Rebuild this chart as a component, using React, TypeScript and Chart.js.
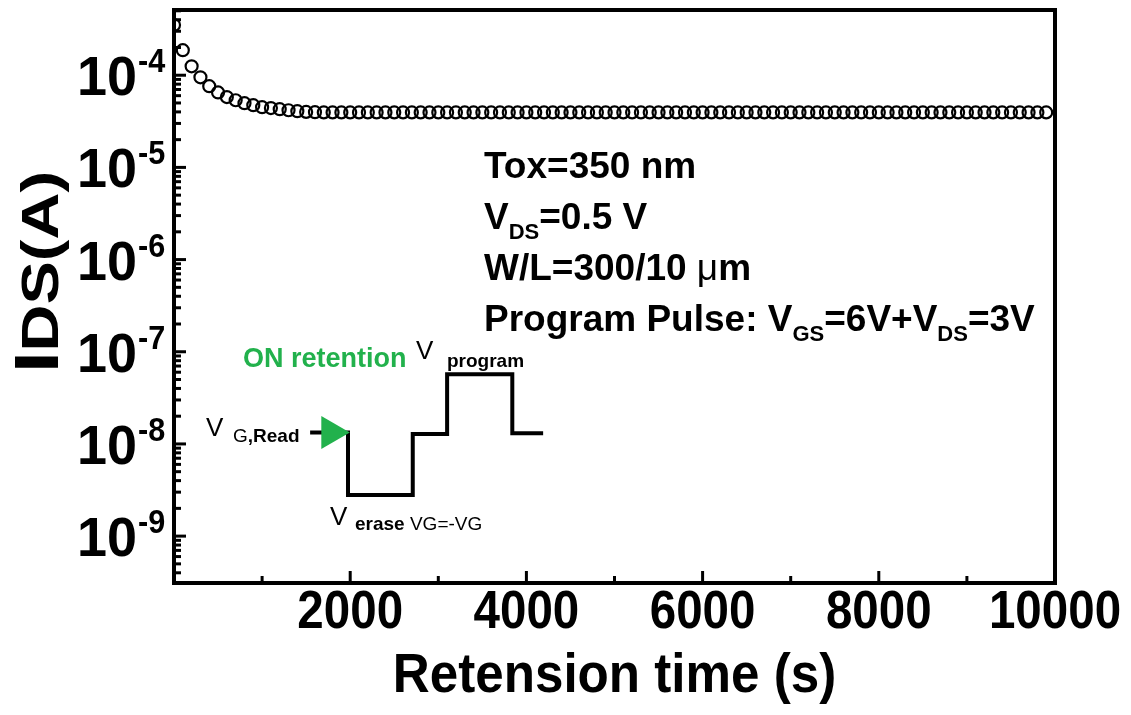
import React, { useEffect, useRef } from "react";
import { Chart, registerables } from "chart.js";

Chart.register(...registerables);

// ---- data ----
const retentionTimes = [
  0, 100, 200, 300, 400, 500, 600, 700, 800, 900,
  1000, 1100, 1200, 1300, 1400, 1500, 1600, 1700, 1800, 1900,
  2000, 2100, 2200, 2300, 2400, 2500, 2600, 2700, 2800, 2900,
  3000, 3100, 3200, 3300, 3400, 3500, 3600, 3700, 3800, 3900,
  4000, 4100, 4200, 4300, 4400, 4500, 4600, 4700, 4800, 4900,
  5000, 5100, 5200, 5300, 5400, 5500, 5600, 5700, 5800, 5900,
  6000, 6100, 6200, 6300, 6400, 6500, 6600, 6700, 6800, 6900,
  7000, 7100, 7200, 7300, 7400, 7500, 7600, 7700, 7800, 7900,
  8000, 8100, 8200, 8300, 8400, 8500, 8600, 8700, 8800, 8900,
  9000, 9100, 9200, 9300, 9400, 9500, 9600, 9700, 9800, 9900,
];

const drainCurrents = [
  3.5e-4, 1.87e-4, 1.25e-4, 9.5e-5, 7.6e-5, 6.5e-5, 5.8e-5, 5.35e-5, 4.97e-5, 4.73e-5,
  4.5e-5, 4.4e-5, 4.28e-5, 4.17e-5, 4.07e-5, 4.0e-5, 3.97e-5, 3.95e-5, 3.95e-5, 3.95e-5,
  3.95e-5, 3.95e-5, 3.95e-5, 3.95e-5, 3.95e-5, 3.95e-5, 3.95e-5, 3.95e-5, 3.95e-5, 3.95e-5,
  3.95e-5, 3.95e-5, 3.95e-5, 3.95e-5, 3.95e-5, 3.95e-5, 3.95e-5, 3.95e-5, 3.95e-5, 3.95e-5,
  3.95e-5, 3.95e-5, 3.95e-5, 3.95e-5, 3.95e-5, 3.95e-5, 3.95e-5, 3.95e-5, 3.95e-5, 3.95e-5,
  3.95e-5, 3.95e-5, 3.95e-5, 3.95e-5, 3.95e-5, 3.95e-5, 3.95e-5, 3.95e-5, 3.95e-5, 3.95e-5,
  3.95e-5, 3.95e-5, 3.95e-5, 3.95e-5, 3.95e-5, 3.95e-5, 3.95e-5, 3.95e-5, 3.95e-5, 3.95e-5,
  3.95e-5, 3.95e-5, 3.95e-5, 3.95e-5, 3.95e-5, 3.95e-5, 3.95e-5, 3.95e-5, 3.95e-5, 3.95e-5,
  3.95e-5, 3.95e-5, 3.95e-5, 3.95e-5, 3.95e-5, 3.95e-5, 3.95e-5, 3.95e-5, 3.95e-5, 3.95e-5,
  3.95e-5, 3.95e-5, 3.95e-5, 3.95e-5, 3.95e-5, 3.95e-5, 3.95e-5, 3.95e-5, 3.95e-5, 3.95e-5,
];

// inset pulse schematic (drawn in data space)
const waveTimes = [1545, 1975, 1975, 2710, 2710, 3100, 3100, 3840, 3840, 4190];
const waveCurrents = [1.33e-8, 1.33e-8, 2.8e-9, 2.8e-9, 1.28e-8, 1.28e-8, 5.7e-8, 5.7e-8, 1.31e-8, 1.31e-8];
const markerTimes = [1780];
const markerCurrents = [1.33e-8];

// axes
const xMin = 0;
const xMax = 10000;
const yMin = 3.1e-10;
const yMax = 5.1e-4;
const xMajorTicks = [2000, 4000, 6000, 8000, 10000];
const xMinorTicks = [1000, 3000, 5000, 7000, 9000];
const xTickLabels = ["2000", "4000", "6000", "8000", "10000"];
const yMajorExponents = [-9, -8, -7, -6, -5, -4];
const yMinorDecades = [-10, -9, -8, -7, -6, -5, -4];
const yMinorMultipliers = [2, 3, 4, 5, 6, 7, 8, 9];

const FAMILY = "'Liberation Sans', Arial, Helvetica, sans-serif";
const GREEN = "#22b14c";

type Run = { text: string; font: string; dy?: number; color?: string };

function drawRuns(
  ctx: CanvasRenderingContext2D,
  x: number,
  y: number,
  runs: Run[],
  align: "left" | "center" | "right" = "left",
  sx = 1
) {
  let total = 0;
  for (const r of runs) {
    ctx.font = r.font;
    total += ctx.measureText(r.text).width;
  }
  total *= sx;
  let cx = x;
  if (align === "center") cx = x - total / 2;
  if (align === "right") cx = x - total;
  ctx.save();
  ctx.translate(cx, y);
  ctx.scale(sx, 1);
  ctx.textAlign = "left";
  ctx.textBaseline = "alphabetic";
  let ox = 0;
  for (const r of runs) {
    ctx.font = r.font;
    ctx.fillStyle = r.color || "#000";
    ctx.fillText(r.text, ox, r.dy || 0);
    ox += ctx.measureText(r.text).width;
  }
  ctx.restore();
}

const decorPlugin = {
  id: "decor",
  afterDraw(chart: any) {
    const ctx: CanvasRenderingContext2D = chart.ctx;
    const { left, right, top, bottom } = chart.chartArea;
    const xs = chart.scales.x;
    const ys = chart.scales.y;
    ctx.save();

    // ticks (inward)
    ctx.strokeStyle = "#000";
    ctx.lineCap = "butt";
    ctx.lineWidth = 3;
    const seg = (x1: number, y1: number, x2: number, y2: number) => {
      ctx.beginPath();
      ctx.moveTo(x1, y1);
      ctx.lineTo(x2, y2);
      ctx.stroke();
    };
    for (const v of xMajorTicks) {
      const px = xs.getPixelForValue(v);
      seg(px, bottom, px, bottom - 12);
    }
    for (const v of xMinorTicks) {
      const px = xs.getPixelForValue(v);
      seg(px, bottom, px, bottom - 7);
    }
    for (const e of yMajorExponents) {
      const py = ys.getPixelForValue(Math.pow(10, e));
      seg(left, py, left + 12, py);
    }
    for (const d of yMinorDecades) {
      for (const m of yMinorMultipliers) {
        const v = m * Math.pow(10, d);
        if (v <= yMin || v >= yMax) continue;
        const py = ys.getPixelForValue(v);
        seg(left, py, left + 7, py);
      }
    }

    // frame
    ctx.lineWidth = 4;
    ctx.lineJoin = "miter";
    ctx.strokeRect(left, top, right - left, bottom - top);

    // y tick labels
    for (const e of yMajorExponents) {
      const py = ys.getPixelForValue(Math.pow(10, e));
      drawRuns(ctx, left - 37, py + 20, [{ text: "10", font: `bold 55px ${FAMILY}` }], "right", 0.98);
      drawRuns(ctx, left - 36, py - 3, [{ text: `-${Math.abs(e)}`, font: `bold 34px ${FAMILY}` }], "left", 0.9);
    }

    // x tick labels
    xMajorTicks.forEach((v, i) => {
      const px = xs.getPixelForValue(v);
      drawRuns(ctx, px, 628, [{ text: xTickLabels[i], font: `bold 54px ${FAMILY}` }], "center", 0.88);
    });

    // x title
    drawRuns(ctx, (left + right) / 2, 692, [{ text: "Retension time (s)", font: `bold 55px ${FAMILY}` }], "center", 0.93);

    // y title (rotated); glyph height compressed horizontally
    ctx.save();
    ctx.translate(58, 272);
    ctx.rotate(-Math.PI / 2);
    ctx.scale(1, 0.8);
    drawRuns(ctx, 0, 0, [
      { text: "I", font: `bold 78px ${FAMILY}` },
      { text: "DS(A)", font: `bold 65px ${FAMILY}` },
    ], "center");
    ctx.restore();

    // parameter text block
    const big = `bold 37px ${FAMILY}`;
    const sub = `bold 22px ${FAMILY}`;
    const tx = 484;
    drawRuns(ctx, tx, 178, [{ text: "Tox=350 nm", font: big }]);
    drawRuns(ctx, tx, 229, [
      { text: "V", font: big },
      { text: "DS", font: sub, dy: 10 },
      { text: "=0.5 V", font: big },
    ]);
    drawRuns(ctx, tx, 280, [
      { text: "W/L=300/10 ", font: big },
      { text: "\u03bc", font: `37px ${FAMILY}` },
      { text: "m", font: big },
    ]);
    drawRuns(ctx, tx, 331, [
      { text: "Program Pulse: V", font: big },
      { text: "GS", font: sub, dy: 10 },
      { text: "=6V+V", font: big },
      { text: "DS", font: sub, dy: 10 },
      { text: "=3V", font: big },
    ]);

    // inset labels
    drawRuns(ctx, 243, 367, [{ text: "ON retention", font: `bold 27px ${FAMILY}`, color: GREEN }]);
    drawRuns(ctx, 416, 359, [{ text: "V", font: `26px ${FAMILY}` }]);
    drawRuns(ctx, 447, 367, [{ text: "program", font: `bold 19px ${FAMILY}` }]);
    drawRuns(ctx, 206, 436, [{ text: "V", font: `26px ${FAMILY}` }]);
    drawRuns(ctx, 233, 442, [
      { text: "G", font: `19px ${FAMILY}` },
      { text: ",Read", font: `bold 19px ${FAMILY}` },
    ]);
    drawRuns(ctx, 330, 525, [{ text: "V", font: `26px ${FAMILY}` }]);
    drawRuns(ctx, 355, 530, [
      { text: "erase", font: `bold 19px ${FAMILY}` },
      { text: " VG=-VG", font: `19px ${FAMILY}` },
    ]);

    ctx.restore();
  },
};

export default function App() {
  const ref = useRef<HTMLCanvasElement>(null);

  useEffect(() => {
    const canvas = ref.current;
    if (!canvas) return;
    const chart = new Chart(canvas, {
      type: "line",
      data: {
        datasets: [
          {
            label: "marker",
            data: markerTimes.map((t, i) => ({ x: t, y: markerCurrents[i] })),
            showLine: false,
            pointStyle: "triangle",
            pointRotation: 90,
            pointRadius: 19,
            pointBackgroundColor: GREEN,
            pointBorderColor: GREEN,
            pointBorderWidth: 0,
            order: 1,
          } as any,
          {
            label: "pulse",
            data: waveTimes.map((t, i) => ({ x: t, y: waveCurrents[i] })),
            showLine: true,
            borderColor: "#000",
            borderWidth: 4,
            borderJoinStyle: "miter",
            borderCapStyle: "butt",
            pointRadius: 0,
            tension: 0,
            order: 2,
          } as any,
          {
            label: "IDS",
            data: retentionTimes.map((t, i) => ({ x: t, y: drainCurrents[i] })),
            showLine: false,
            pointStyle: "circle",
            pointRadius: 6,
            pointBorderWidth: 2.2,
            pointBorderColor: "#000",
            pointBackgroundColor: "rgba(255,255,255,0)",
            clip: 0,
            order: 3,
          } as any,
        ],
      },
      options: {
        animation: false,
        responsive: false,
        devicePixelRatio: 1,
        events: [],
        layout: { autoPadding: false, padding: { left: 174, right: 76, top: 10, bottom: 132 } },
        plugins: { legend: { display: false }, tooltip: { enabled: false } },
        scales: {
          x: { type: "linear", min: xMin, max: xMax, display: false },
          y: { type: "logarithmic", min: yMin, max: yMax, display: false },
        },
      },
      plugins: [decorPlugin],
    });
    return () => chart.destroy();
  }, []);

  return (
    <div style={{ position: "fixed", left: 0, top: 0, width: 1131, height: 715, background: "#fff" }}>
      <canvas ref={ref} width={1131} height={715} style={{ width: 1131, height: 715, display: "block" }} />
    </div>
  );
}
